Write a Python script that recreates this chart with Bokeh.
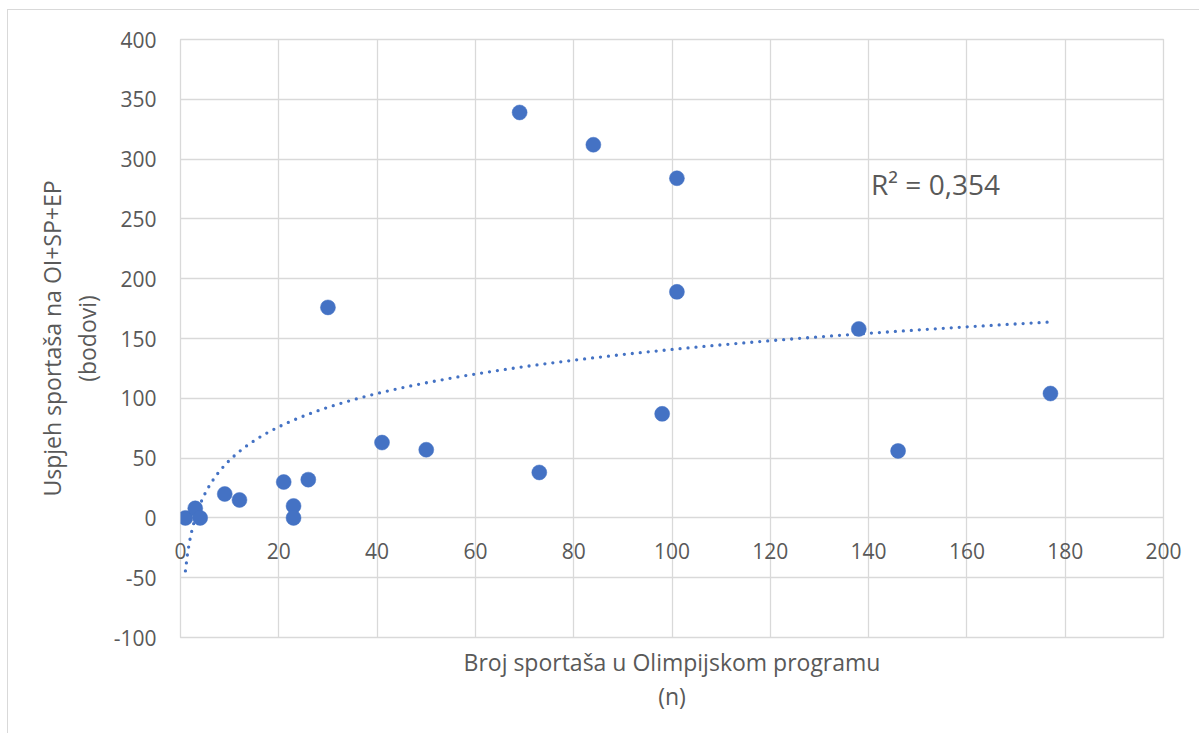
import numpy as np
from bokeh.plotting import figure
from bokeh.models import Label, FixedTicker, Range1d
from bokeh.embed import file_html
from bokeh.resources import INLINE

# data
athletes = [1, 3, 4, 9, 12, 21, 23, 23, 26, 30, 41, 50, 69, 73, 84, 98, 101, 101, 138, 146, 177]
success = [0, 8, 0, 20, 15, 30, 10, 0, 32, 176, 63, 57, 339, 38, 312, 87, 284, 189, 158, 56, 104]
x_ticks = [0, 20, 40, 60, 80, 100, 120, 140, 160, 180, 200]
y_ticks = [-100, -50, 0, 50, 100, 150, 200, 250, 300, 350, 400]
y_tick_labels = {t: str(t) for t in y_ticks}
# logarithmic trendline y = a*ln(x) + b, coefficients
trend_a = 40.2
trend_b = -44.3
r2_text = "R² = 0,354"
x_title = "Broj sportaša u Olimpijskom programu\n(n)"
y_title = "Uspjeh sportaša na OI+SP+EP\n(bodovi)"

FONT = "Open Sans"
TXT = "#595959"
GRID = "#d9d9d9"
BLUE = "#4472C4"

p = figure(width=1192, height=724, output_backend="svg", toolbar_location=None,
           x_range=Range1d(0, 200), y_range=Range1d(-100, 400),
           min_border_left=172, min_border_right=37, min_border_top=29, min_border_bottom=97,
           background_fill_color="white", border_fill_color="white")
p.outline_line_color = GRID
p.outline_line_width = 1.3

p.xgrid.ticker = FixedTicker(ticks=x_ticks)
p.ygrid.ticker = FixedTicker(ticks=y_ticks)
for g in (p.xgrid, p.ygrid):
    g.grid_line_color = GRID
    g.grid_line_width = 1.3

# bottom axis: tick labels lifted up to the y = 0 line, title below the frame
xa = p.xaxis[0]
xa.ticker = FixedTicker(ticks=x_ticks)
xa.major_tick_out = 0
xa.major_tick_in = 0
xa.minor_tick_out = 0
xa.minor_tick_in = 0
xa.axis_line_color = None
xa.major_label_text_font = FONT
xa.major_label_text_font_size = "21px"
xa.major_label_text_color = TXT
xa.major_label_standoff = -95
xa.axis_label = x_title
xa.axis_label_text_font = FONT
xa.axis_label_text_font_size = "23px"
xa.axis_label_text_font_style = "normal"
xa.axis_label_text_color = TXT
xa.axis_label_text_line_height = 1.07
xa.axis_label_standoff = 84

ya = p.yaxis[0]
ya.ticker = FixedTicker(ticks=y_ticks)
ya.major_label_overrides = y_tick_labels
ya.major_tick_out = 0
ya.major_tick_in = 0
ya.minor_tick_out = 0
ya.minor_tick_in = 0
ya.axis_line_color = None
ya.major_label_text_font = FONT
ya.major_label_text_font_size = "21px"
ya.major_label_text_color = TXT
ya.major_label_standoff = 24
ya.axis_label = y_title
ya.axis_label_text_font = FONT
ya.axis_label_text_font_size = "23px"
ya.axis_label_text_font_style = "normal"
ya.axis_label_text_color = TXT
ya.axis_label_text_line_height = 1.07
ya.axis_label_standoff = 8

# trendline
tx = np.linspace(min(athletes), max(athletes), 400)
ty = trend_a * np.log(tx) + trend_b
p.line(tx, ty, line_color=BLUE, line_width=3.3, line_dash="0 8", line_cap="round")

p.scatter(athletes, success, size=15, fill_color=BLUE, line_color=BLUE, line_width=0.5)

p.add_layout(Label(x=140.5, y=279, text=r2_text, text_font=FONT, text_font_size="28px",
                   text_color=TXT, text_baseline="middle", text_align="left"))

p.styles = {"margin-left": "7px", "margin-top": "9px",
            "border-left": "1px solid #d9d9d9", "border-top": "1px solid #d9d9d9"}

open("out.html", "w").write(file_html(p, INLINE))
